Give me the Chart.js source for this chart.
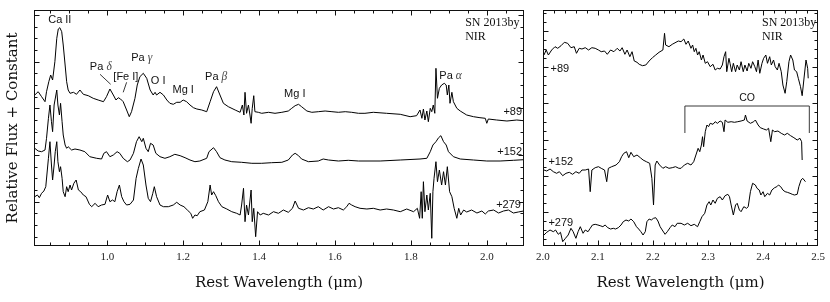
<!DOCTYPE html>
<html>
<head>
<meta charset="utf-8">
<script src="https://cdn.jsdelivr.net/npm/chart.js@4.4.1/dist/chart.umd.min.js"></script>
<style>
  html, body { margin: 0; padding: 0; background: #fff; }
  #wrap { position: relative; width: 830px; height: 302px; }
  .panel { position: absolute; top: 0; height: 302px; }
</style>
</head>
<body>
<div id="wrap">
  <div class="panel" style="left:0;width:531px"><canvas id="nirChart"></canvas></div>
  <div class="panel" style="left:531px;width:299px"><canvas id="kChart"></canvas></div>
</div>
<script>
// ---- spectra (wavelength in micron, flux + constant) ----
const leftWave89 = [0.809,0.818,0.827,0.836,0.840,0.846,0.851,0.856,0.862,0.867,0.871,0.875,0.880,0.884,0.889,0.893,0.897,0.902,0.911,0.919,
  0.928,0.937,0.950,0.963,0.976,0.990,0.998,1.007,1.016,1.023,1.029,1.035,1.042,1.051,1.058,1.064,1.073,1.079,1.086,1.095,
  1.104,1.113,1.121,1.126,1.130,1.139,1.148,1.157,1.165,1.174,1.183,1.192,1.200,1.209,1.218,1.227,1.236,
  1.249,1.262,1.271,1.280,1.288,1.297,1.306,1.319,1.337,1.350,1.356,1.360,1.363,1.367,1.372,1.376,1.379,1.382,1.386,1.389,
  1.398,1.407,1.425,1.442,1.460,1.477,1.486,1.495,1.504,1.512,1.526,1.539,1.556,1.574,1.592,1.609,1.627,1.644,1.662,
  1.679,1.701,1.736,1.772,1.798,1.815,1.824,1.829,1.833,1.837,1.842,1.846,1.851,1.855,1.859,1.863,1.866,1.870,1.875,1.881,
  1.888,1.893,1.896,1.900,1.903,1.908,1.912,1.921,1.930,1.947,1.965,1.982,1.996,2.000,2.004,2.026,2.053,2.079,2.097];
const leftFlux89 = [15.1,15.43,14.93,14.43,15.43,16.43,17.1,16.6,18.43,20.77,21.7,21.83,21.43,20.1,18.1,16.43,15.6,15.27,15.37,15.17,
  15.6,15.17,15.03,14.77,14.6,14.43,14.93,15.7,15.1,14.6,14.83,14.7,14.43,13.6,12.93,13.43,14.77,16.1,16.93,17.27,
  16.77,15.6,15.1,15.37,15.1,15.37,15.1,14.6,14.27,14.17,14.37,14.37,14.6,14.43,14.1,13.83,13.7,
  13.6,13.43,14.43,15.43,15.93,15.1,14.27,13.93,13.6,13.37,14.1,13.1,15.37,13.27,14.1,13.1,12.27,13.77,15.03,13.43,
  13.37,13.27,13.37,13.27,13.37,13.5,13.77,14.03,14.17,13.93,13.5,13.37,13.43,13.5,13.43,13.37,13.43,13.37,13.27,
  13.27,13.37,13.27,13.17,12.93,13.03,13.6,12.77,13.7,12.6,13.5,12.43,13.77,13.43,14.1,13.27,17.77,14.77,15.77,16.1,
  16.27,16.1,15.1,16.1,14.27,15.37,14.43,13.77,13.5,13.1,12.93,12.83,12.77,12.27,12.7,12.6,12.5,12.6,12.53];

const leftWave152 = [0.809,0.818,0.827,0.836,0.840,0.845,0.849,0.853,0.856,0.860,0.867,0.870,0.874,0.877,0.881,0.884,0.889,0.893,0.897,0.906,
  0.915,0.928,0.941,0.954,0.972,0.985,0.991,0.998,1.007,1.016,1.026,1.033,1.042,1.053,1.060,1.069,1.077,1.084,1.091,1.095,
  1.102,1.108,1.114,1.121,1.128,1.139,1.152,1.165,1.178,1.192,1.205,1.218,1.231,1.244,
  1.262,1.268,1.280,1.288,1.297,1.310,1.328,1.354,1.381,1.407,1.433,1.460,1.477,1.488,1.495,1.504,1.512,1.530,1.556,1.569,
  1.583,1.609,1.635,1.662,
  1.719,1.772,1.824,1.842,1.851,1.858,1.866,1.873,1.879,1.886,1.893,1.899,1.912,1.930,1.965,2.000,2.035,2.070,2.097];
const leftFlux152 = [9.77,9.5,9.43,9.6,10.77,12.77,14.1,12.43,11.43,14.1,15.6,14.1,13.1,14.27,12.43,11.1,10.1,9.77,9.93,9.6,
  9.7,9.6,9.43,8.93,8.77,8.7,9.27,9.43,8.93,9.1,9.43,9.27,8.77,8.43,8.6,9.27,10.43,10.93,10.43,10.77,
  9.77,9.43,10.27,10.1,9.27,8.93,8.77,8.93,9.17,9.03,8.83,8.6,8.43,8.5,
  8.77,9.43,9.83,9.43,8.83,8.6,8.43,8.37,8.27,8.27,8.33,8.37,8.6,9.1,9.27,9.03,8.7,8.43,8.5,8.7,
  8.6,8.5,8.57,8.5,
  8.5,8.6,8.7,8.77,9.43,10.1,10.43,10.83,11.03,10.43,10.1,9.43,8.93,8.7,8.6,8.5,8.5,8.57,8.63];

const leftWave279 = [0.809,0.816,0.821,0.827,0.833,0.838,0.845,0.849,0.853,0.856,0.860,0.863,0.867,0.870,0.874,0.877,0.881,0.884,0.889,0.893,
  0.897,0.902,0.906,0.912,0.918,0.924,0.930,0.937,0.944,0.953,0.959,0.968,0.976,0.985,0.994,1.001,1.007,1.014,1.020,1.026,
  1.032,1.038,1.044,1.051,1.060,1.069,1.076,1.082,1.089,1.095,1.102,1.108,1.114,1.120,1.124,1.130,1.139,1.148,1.161,1.174,
  1.183,1.192,1.202,1.211,1.220,1.225,1.231,1.237,
  1.244,1.256,1.265,1.271,1.275,1.280,1.286,1.293,1.302,1.315,1.328,1.341,1.350,1.354,1.359,1.363,1.367,1.372,1.379,1.382,
  1.386,1.391,1.396,1.403,1.411,1.425,1.438,1.451,1.464,1.477,1.488,1.495,1.504,1.517,1.530,1.543,1.556,1.569,1.583,1.596,
  1.609,1.622,1.631,1.637,1.644,1.653,1.666,
  1.684,1.701,1.719,1.736,1.754,1.772,1.789,1.807,1.817,1.823,1.827,1.830,1.833,1.837,1.842,1.846,1.851,1.855,1.858,1.861,
  1.866,1.870,1.875,1.881,1.886,1.891,1.896,1.902,1.908,1.914,1.921,1.926,1.931,1.939,1.947,1.960,1.974,1.987,1.996,2.004,
  2.018,2.031,2.044,2.057,2.070,2.083,2.097];
const leftFlux279 = [4.93,5.1,4.83,5.27,5.5,5.93,8.77,10.43,8.1,6.6,8.1,9.43,10.43,8.43,7.43,7.93,6.77,5.43,4.93,5.93,
  5.43,6.1,5.6,6.27,6.6,5.6,5.43,5.1,4.93,4.17,3.93,4.27,3.93,4.1,4.17,5.1,4.43,4.6,4.43,5.43,
  6.1,4.93,4.43,4.1,4.17,4.6,6.77,7.77,8.7,8.1,6.1,4.77,4.43,5.27,5.93,4.93,4.1,3.93,3.93,4.1,
  4.37,4.1,3.93,3.6,3.27,2.77,3.1,3.03,
  3.43,3.6,4.43,6.1,5.1,5.43,5.03,4.43,3.93,3.7,3.43,3.27,3.1,4.1,5.77,2.43,4.1,3.1,5.6,2.43,
  3.77,0.93,3.43,3.1,3.27,3.1,3.43,3.27,3.6,3.37,3.77,4.5,3.77,3.6,3.83,3.7,3.93,3.6,3.93,3.7,
  3.83,3.6,3.93,4.27,4.1,3.93,3.77,
  3.7,3.77,3.6,3.7,3.6,3.43,3.7,3.43,3.77,2.77,5.43,2.77,6.43,3.43,5.1,3.6,5.27,0.77,5.43,6.77,
  8.43,6.43,7.6,6.1,7.43,6.1,7.93,5.43,4.93,3.77,2.77,3.77,3.1,3.6,3.4,3.6,3.3,3.5,3.2,3.5,
  3.6,3.3,3.5,3.6,3.3,3.4,3.5];

const rightWave89 = [2.002,2.006,2.010,2.016,2.022,2.027,2.033,2.039,2.045,2.051,2.057,2.061,2.066,2.071,2.077,2.083,2.089,2.095,2.101,2.106,
  2.112,2.117,2.123,2.129,2.135,2.140,2.144,2.149,2.153,2.158,2.162,2.166,2.171,2.175,2.181,2.187,2.193,2.199,2.205,2.211,
  2.218,2.221,2.223,2.229,2.235,2.246,2.251,2.256,2.260,2.264,2.269,2.272,2.275,2.278,2.281,2.284,2.288,2.291,2.295,2.299,
  2.304,2.309,2.313,2.317,2.322,2.326,2.329,2.332,2.334,2.338,2.340,2.343,2.346,2.350,2.353,2.357,2.360,2.364,2.367,2.371,
  2.374,2.378,2.381,2.385,2.388,2.391,2.394,2.398,2.401,2.405,2.408,2.412,2.415,2.419,2.422,2.426,2.429,2.433,2.436,2.440,
  2.443,2.447,2.450,2.454,2.457,2.461,2.464,2.468,2.471,2.475,2.478,2.481,2.482];
const rightFlux89 = [19.1,19.6,19.1,19.6,19.93,19.77,20.03,20.37,20.27,19.83,19.93,19.27,19.77,19.7,19.83,19.6,19.83,19.77,19.6,19.43,
  19.5,19.17,19.6,19.43,19.77,19.5,19.83,19.17,19.6,18.93,19.43,18.5,18.37,18.17,18.03,18.1,18.5,18.83,19.1,19.37,
  19.6,21.27,20.1,19.93,20.17,20.5,20.43,20.7,20.17,20.5,19.77,20.1,19.43,19.77,19.1,19.43,18.6,19.1,18.27,18.43,
  17.93,18.17,17.6,17.77,17.7,18.1,18.93,19.43,17.43,18.77,18.27,17.43,18.27,17.43,18.1,17.6,18.43,17.43,18.1,17.5,
  18.27,17.77,18.43,17.93,17.43,18.6,17.27,18.27,18.77,19.1,18.27,18.93,18.1,18.6,17.93,17.6,18.27,17.43,16.1,15.27,
  16.43,18.43,19.1,18.6,17.6,17.43,16.77,15.93,15.03,17.1,18.6,17.77,16.77];

const rightWave152 = [2.002,2.007,2.013,2.019,2.025,2.030,2.036,2.042,2.048,2.054,2.060,2.066,2.071,2.077,2.083,2.086,2.089,2.095,2.101,2.106,
  2.112,2.116,2.119,2.125,2.133,2.139,2.143,2.147,2.152,2.156,2.160,2.165,2.171,2.177,2.182,2.188,2.194,2.198,2.201,2.204,
  2.207,2.212,2.218,2.223,2.229,2.235,2.241,2.247,2.251,2.257,2.263,2.269,2.274,2.278,2.282,2.285,2.288,2.290,2.292,2.295,
  2.298,2.301,2.304,2.309,2.313,2.317,2.322,2.326,2.329,2.331,2.336,2.342,2.348,2.354,2.360,2.366,2.368,2.371,2.377,2.383,
  2.386,2.391,2.395,2.401,2.406,2.410,2.414,2.417,2.421,2.427,2.433,2.439,2.444,2.450,2.456,2.462,2.467,2.470,2.471];
const rightFlux152 = [7.6,7.5,7.7,7.43,7.27,7.43,7.03,7.27,7.37,7.17,7.43,7.27,7.6,7.6,7.7,5.43,7.6,7.83,7.93,7.77,
  7.6,6.43,7.77,7.93,8.1,8.43,8.93,9.27,9.43,8.83,9.37,8.93,9.1,8.83,8.6,8.43,8.27,6.77,4.1,8.1,
  8.5,8.1,7.77,7.93,7.77,7.83,7.93,7.77,7.77,8.1,8.27,8.1,8.43,9.1,9.77,9.43,10.1,10.93,9.93,11.43,
  12.1,11.93,12.27,12.17,12.43,12.27,12.5,12.37,11.43,12.6,12.37,12.43,12.37,12.43,12.5,12.6,13.1,12.5,12.27,12.43,
  12.6,12.1,11.83,11.7,11.6,11.77,10.43,11.6,11.43,11.5,11.27,11.1,11.27,11.03,10.83,10.6,10.77,10.43,8.6];

const rightWave279 = [2.002,2.007,2.013,2.019,2.023,2.028,2.032,2.036,2.041,2.046,2.051,2.055,2.060,2.064,2.068,2.073,2.077,2.082,2.086,2.090,
  2.095,2.100,2.104,2.109,2.113,2.118,2.123,2.128,2.132,2.137,2.142,2.146,2.151,2.156,2.160,2.165,2.170,2.174,2.178,2.182,
  2.186,2.189,2.193,2.197,2.201,2.205,2.209,2.213,2.218,2.222,2.226,2.231,2.235,2.240,2.244,2.251,2.257,2.263,2.269,2.275,
  2.281,2.285,2.289,2.294,2.298,2.302,2.305,2.309,2.313,2.317,2.322,2.326,2.331,2.336,2.339,2.342,2.346,2.350,2.353,2.357,
  2.360,2.365,2.370,2.373,2.377,2.381,2.386,2.389,2.393,2.396,2.400,2.403,2.408,2.412,2.416,2.421,2.425,2.428,2.432,2.436,
  2.440,2.444,2.449,2.453,2.457,2.462,2.465,2.469,2.472,2.477];
const rightFlux279 = [1.1,1.37,1.6,1.43,1.6,1.17,1.37,0.43,0.77,1.1,1.77,1.43,0.77,1.43,1.93,1.27,1.6,1.43,1.77,2.1,
  2.17,2.1,2.03,1.93,2.1,1.83,1.7,1.77,1.7,1.83,2.1,2.43,2.6,2.5,2.7,2.43,1.93,1.7,1.43,1.1,
  1.43,2.43,2.7,2.6,2.77,2.83,2.5,1.93,1.5,1.17,1.43,1.83,2.1,1.93,2.27,2.27,2.1,2.27,2.03,2.17,
  1.93,2.43,2.93,3.27,4.1,4.43,4.1,4.6,4.27,4.77,4.93,4.6,5.03,5.17,4.93,4.1,3.1,4.1,4.27,3.6,
  3.43,3.93,3.77,3.93,5.43,6.27,6.1,5.77,5.6,5.1,5.43,4.93,5.27,5.1,5.6,5.83,5.93,6.1,5.93,5.6,
  5.43,5.37,5.27,5.17,5.1,5.17,5.93,6.6,6.77,6.43];

const leftTickLabels = [1.0, 1.2, 1.4, 1.6, 1.8, 2.0];
const rightTickLabels = [2.0, 2.1, 2.2, 2.3, 2.4, 2.5];

const SANS = '11px "Liberation Sans", Arial, sans-serif';
const GRK = 'italic 11.5px "Liberation Serif", serif';
const SERIF = '12px "Liberation Serif", serif';

function spectrum(waves, flux) {
    return {
        data: waves.map((w, i) => ({x: w, y: flux[i]})),
        borderColor: '#000',
        borderWidth: 1,
        pointRadius: 0,
        tension: 0,
        fill: false
    };
}

function range(from, to, step) {
    const out = [];
    for (let v = from; v <= to + 1e-9; v += step) out.push(+v.toFixed(4));
    return out;
}

// box + inward ticks on all four sides
const framePlugin = {
    id: 'frame',
    afterDatasetsDraw(chart, args, opts) {
        const {ctx, chartArea: a, scales: {x, y}} = chart;
        ctx.save();
        ctx.strokeStyle = '#111';
        ctx.lineWidth = 1;
        const l = Math.round(a.left) + 0.5, r = Math.round(a.right) - 0.5;
        const t = Math.round(a.top) + 0.5, b = Math.round(a.bottom) - 0.5;
        ctx.strokeRect(l, t, r - l, b - t);
        const seg = (x1, y1, x2, y2) => { ctx.beginPath(); ctx.moveTo(x1, y1); ctx.lineTo(x2, y2); ctx.stroke(); };
        const xt = (vals, len) => vals.forEach(v => {
            const px = Math.round(x.getPixelForValue(v)) + 0.5;
            if (px <= l || px >= r) return;
            seg(px, b, px, b - len); seg(px, t, px, t + len);
        });
        const yt = (vals, len) => vals.forEach(v => {
            const py = Math.round(y.getPixelForValue(v)) + 0.5;
            if (py <= t || py >= b) return;
            seg(l, py, l + len, py); seg(r, py, r - len, py);
        });
        xt(opts.xMinor, 3); xt(opts.xMajor, 5);
        yt(opts.yMinor, 3); yt(opts.yMajor, 5);
        ctx.restore();
    }
};

// labels, line identifications, CO bracket
const notesPlugin = {
    id: 'notes',
    afterDatasetsDraw(chart, args, opts) {
        const {ctx, scales: {x, y}} = chart;
        ctx.save();
        ctx.strokeStyle = '#222';
        ctx.lineWidth = 0.9;
        ctx.textBaseline = 'middle';
        (opts.items || []).forEach(it => {
            let w = 0;
            it.parts.forEach(p => { ctx.font = p[1]; w += ctx.measureText(p[0]).width; });
            let px = x.getPixelForValue(it.x);
            if (it.align === 'center') px -= w / 2;
            else if (it.align === 'right') px -= w;
            const py = y.getPixelForValue(it.y);
            ctx.textAlign = 'left';
            it.parts.forEach(p => {
                ctx.font = p[1];
                ctx.fillStyle = p[2] || '#111';
                ctx.fillText(p[0], px, py);
                px += ctx.measureText(p[0]).width;
            });
        });
        (opts.paths || []).forEach(pts => {
            ctx.beginPath();
            pts.forEach((p, i) => {
                const px = x.getPixelForValue(p[0]), py = y.getPixelForValue(p[1]);
                if (i === 0) ctx.moveTo(px, py); else ctx.lineTo(px, py);
            });
            ctx.stroke();
        });
        ctx.restore();
    }
};

function xAxis(min, max, labels) {
    return {
        type: 'linear',
        min: min,
        max: max,
        afterBuildTicks: s => { s.ticks = labels.map(v => ({value: v})); },
        afterFit: s => { s.height = 46; },
        grid: {display: false, drawTicks: false},
        border: {display: false},
        ticks: {
            padding: 5,
            color: '#222',
            font: {family: '"Liberation Serif"', size: 11},
            callback: v => v.toFixed(1),
            maxRotation: 0
        },
        title: {
            display: true,
            text: 'Rest Wavelength (\u03bcm)',
            color: '#111',
            padding: 0,
            font: {family: '"DejaVu Serif"', size: 15}
        }
    };
}

function makeChart(id, opts) {
    return new Chart(document.getElementById(id), {
        type: 'line',
        data: {datasets: opts.datasets},
        options: {
            responsive: true,
            maintainAspectRatio: false,
            animation: false,
            events: [],
            layout: {padding: opts.padding},
            scales: {x: opts.x, y: opts.y},
            plugins: {
                legend: {display: false},
                tooltip: {enabled: false},
                frame: opts.frame,
                notes: opts.notes
            }
        },
        plugins: [framePlugin, notesPlugin]
    });
}

// left panel: 0.8 - 2.1 micron
makeChart('nirChart', {
    datasets: [spectrum(leftWave89, leftFlux89), spectrum(leftWave152, leftFlux152), spectrum(leftWave279, leftFlux279)],
    padding: {left: 4, right: 7, top: 10, bottom: 10},
    x: xAxis(0.807, 2.098, leftTickLabels),
    y: {
        type: 'linear', min: 0, max: 23.6,
        afterFit: s => { s.width = 30; },
        grid: {display: false, drawTicks: false},
        border: {display: false},
        ticks: {display: false},
        title: {
            display: true,
            text: 'Relative Flux + Constant',
            color: '#111',
            padding: 0,
            font: {family: '"DejaVu Serif"', size: 15}
        }
    },
    frame: {
        xMajor: range(0.8, 2.1, 0.2),
        xMinor: range(0.8, 2.1, 0.05),
        yMajor: range(4.43, 23.6, 4.67),
        yMinor: range(0.93, 23.6, 1.1675)
    },
    notes: {
        items: [
            {x: 0.875, y: 22.6, align: 'center', parts: [['Ca II', SANS]]},
            {x: 0.983, y: 17.9, align: 'center', parts: [['Pa ', SANS], ['\u03b4', GRK, '#444']]},
            {x: 1.049, y: 16.9, align: 'center', parts: [['[Fe I]', SANS]]},
            {x: 1.091, y: 18.8, align: 'center', parts: [['Pa ', SANS], ['\u03b3', GRK, '#444']]},
            {x: 1.134, y: 16.5, align: 'center', parts: [['O I', SANS]]},
            {x: 1.200, y: 15.6, align: 'center', parts: [['Mg I', SANS]]},
            {x: 1.287, y: 16.9, align: 'center', parts: [['Pa ', SANS], ['\u03b2', GRK, '#444']]},
            {x: 1.494, y: 15.2, align: 'center', parts: [['Mg I', SANS]]},
            {x: 1.875, y: 17.0, align: 'left', parts: [['Pa ', SANS], ['\u03b1', GRK, '#444']]},
            {x: 1.943, y: 22.3, align: 'left', parts: [['SN 2013by', SERIF]]},
            {x: 1.943, y: 20.9, align: 'left', parts: [['NIR', SERIF]]},
            {x: 2.093, y: 13.4, align: 'right', parts: [['+89', SANS]]},
            {x: 2.093, y: 9.4, align: 'right', parts: [['+152', SANS]]},
            {x: 2.090, y: 4.1, align: 'right', parts: [['+279', SANS]]}
        ],
        paths: [
            [[0.981, 17.17], [1.009, 16.17]],
            [[1.051, 16.37], [1.042, 15.37]]
        ]
    }
});

// right panel: 2.0 - 2.5 micron
makeChart('kChart', {
    datasets: [spectrum(rightWave89, rightFlux89), spectrum(rightWave152, rightFlux152), spectrum(rightWave279, rightFlux279)],
    padding: {left: 7, right: 7, top: 10, bottom: 10},
    x: xAxis(2.0, 2.5, rightTickLabels),
    y: {type: 'linear', display: false, min: 0, max: 23.6},
    frame: {
        xMajor: range(2.0, 2.5, 0.1),
        xMinor: range(2.0, 2.5, 0.02),
        yMajor: range(3.4, 23.6, 3.62),
        yMinor: range(0.685, 23.6, 0.905)
    },
    notes: {
        items: [
            {x: 2.398, y: 22.3, align: 'left', parts: [['SN 2013by', SERIF]]},
            {x: 2.398, y: 20.9, align: 'left', parts: [['NIR', SERIF]]},
            {x: 2.014, y: 17.7, align: 'left', parts: [['+89', SANS]]},
            {x: 2.010, y: 8.4, align: 'left', parts: [['+152', SANS]]},
            {x: 2.010, y: 2.3, align: 'left', parts: [['+279', SANS]]},
            {x: 2.371, y: 14.75, align: 'center', parts: [['CO', '10.5px "Liberation Sans", Arial, sans-serif']]}
        ],
        paths: [
            [[2.258, 11.3], [2.258, 14.0], [2.484, 14.0], [2.484, 11.3]]
        ]
    }
});
</script>
</body>
</html>
